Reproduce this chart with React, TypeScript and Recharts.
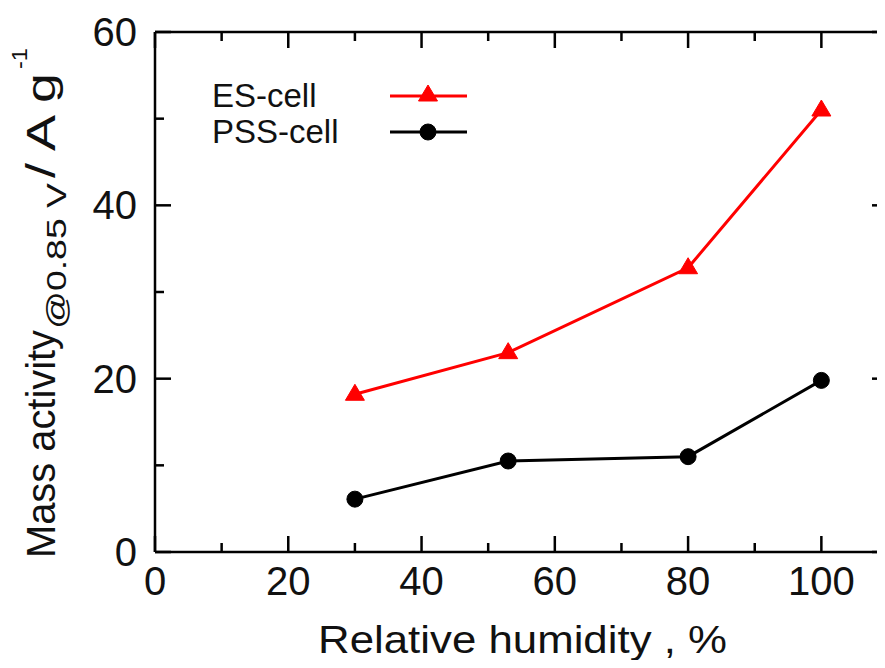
import React from 'react';
import { LineChart, Line, XAxis, YAxis, Legend } from 'recharts';

const humidity = [30, 53, 80, 100];
const esCell = [18.2, 23.0, 32.8, 51.0];
const pssCell = [6.1, 10.5, 11.0, 19.8];
const seriesNames = ['ES-cell', 'PSS-cell'];
const xTicks = [0, 10, 20, 30, 40, 50, 60, 70, 80, 90, 100, 110];
const yTicks = [0, 10, 20, 30, 40, 50, 60];
const xLabelTicks = [0, 20, 40, 60, 80, 100];
const yLabelTicks = [0, 20, 40, 60];

const data = humidity.map((h, i) => ({ rh: h, es: esCell[i], pss: pssCell[i] }));

const FONT = '"Liberation Sans", Arial, Helvetica, sans-serif';
const RED = '#ff0000';
const BLACK = '#000000';
const TEXT = '#111111';
const MAJOR = 16;
const MINOR = 9;
const AXW = 2.5;
const TICK_FONT = 40;

const isMajor = (v: number) => v % 20 === 0;

const BottomTick = (p: any) => {
  const { x, y, payload } = p;
  const v = payload.value;
  const len = isMajor(v) ? MAJOR : MINOR;
  return (
    <g>
      <line x1={x} x2={x} y1={y} y2={y - len} stroke={BLACK} strokeWidth={AXW} />
      {xLabelTicks.includes(v) && (
        <text x={x} y={y + 43} textAnchor="middle" fontSize={TICK_FONT} fontFamily={FONT} fill={TEXT}>
          {v}
        </text>
      )}
    </g>
  );
};

const TopTick = (p: any) => {
  const { x, y, payload } = p;
  const len = isMajor(payload.value) ? MAJOR : MINOR;
  return <line x1={x} x2={x} y1={y} y2={y + len} stroke={BLACK} strokeWidth={AXW} />;
};

const LeftTick = (p: any) => {
  const { x, y, payload } = p;
  const v = payload.value;
  const len = isMajor(v) ? MAJOR : MINOR;
  return (
    <g>
      <line x1={x} x2={x + len} y1={y} y2={y} stroke={BLACK} strokeWidth={AXW} />
      {yLabelTicks.includes(v) && (
        <text x={x - 18} y={y + 14} textAnchor="end" fontSize={TICK_FONT} fontFamily={FONT} fill={TEXT}>
          {v}
        </text>
      )}
    </g>
  );
};

const RightTick = (p: any) => {
  const { x, y, payload } = p;
  const len = isMajor(payload.value) ? MAJOR : MINOR;
  return <line x1={x} x2={x - len} y1={y} y2={y} stroke={BLACK} strokeWidth={AXW} />;
};

const Triangle = ({ cx, cy, color }: any) => (
  <polygon
    points={`${cx},${cy - 10} ${cx + 9.5},${cy + 6} ${cx - 9.5},${cy + 6}`}
    fill={color}
    stroke={color}
    strokeWidth={1}
  />
);

const Circle = ({ cx, cy, color }: any) => <circle cx={cx} cy={cy} r={8} fill={color} stroke={color} />;

const triDot = (p: any) => <Triangle key={`t${p.index}`} cx={p.cx} cy={p.cy} color={RED} />;
const cirDot = (p: any) => <Circle key={`c${p.index}`} cx={p.cx} cy={p.cy} color={BLACK} />;

const LegendContent = (props: any) => {
  const payload = props.payload || [];
  return (
    <div style={{ fontFamily: FONT }}>
      {payload.map((entry: any, i: number) => (
        <div key={i} style={{ display: 'flex', alignItems: 'center', height: 36 }}>
          <span style={{ width: 178, fontSize: 33, color: TEXT, lineHeight: '36px' }}>{entry.value}</span>
          <svg width={77} height={36}>
            <line x1={0} x2={77} y1={18} y2={18} stroke={entry.color} strokeWidth={3} />
            {i === 0 ? <Triangle cx={38} cy={17} color={entry.color} /> : <Circle cx={38} cy={18} color={entry.color} />}
          </svg>
        </div>
      ))}
    </div>
  );
};

const YLabel = (p: any) => {
  const vb = p.viewBox || { x: 0, y: 24, width: 147, height: 520 };
  const x0 = vb.x + 47;
  const y0 = vb.y + vb.height + 6;
  return (
    <g transform={`rotate(-90 ${x0} ${y0})`} fontFamily={FONT} fill={TEXT}>
      <text x={x0} y={y0} fontSize={40} textLength={228} lengthAdjust="spacingAndGlyphs">
        Mass activity
      </text>
      <text x={x0 + 229} y={y0 + 11} fontSize={27} textLength={146} lengthAdjust="spacingAndGlyphs">
        @0.85 V
      </text>
      <text x={x0 + 380} y={y0} fontSize={40} textLength={105} lengthAdjust="spacingAndGlyphs">
        / A g
      </text>
      <text x={x0 + 489} y={y0 - 28} fontSize={22} textLength={21} lengthAdjust="spacingAndGlyphs">
        -1
      </text>
    </g>
  );
};

const XLabel = (p: any) => {
  const vb = p.viewBox || { x: 147, y: 544, width: 733, height: 60 };
  return (
    <text
      x={vb.x + vb.width / 2 + 1}
      y={vb.y + 101}
      textAnchor="middle"
      fontFamily={FONT}
      fill={TEXT}
      fontSize={38}
      textLength={409}
      lengthAdjust="spacingAndGlyphs"
    >
      Relative humidity , %
    </text>
  );
};

export default function App() {
  return (
    <div style={{ width: 877, height: 652, overflow: 'hidden', position: 'relative' }}>
      <LineChart width={877} height={652} data={data} margin={{ top: 23, right: -4, left: 0, bottom: 48 }}>
        <XAxis
          xAxisId="bottom"
          dataKey="rh"
          type="number"
          orientation="bottom"
          domain={[0, 110]}
          ticks={xTicks}
          interval={0}
          allowDataOverflow
          height={60}
          tickSize={0}
          tickMargin={0}
          tickLine={false}
          tick={BottomTick}
          axisLine={{ stroke: BLACK, strokeWidth: AXW }}
          label={<XLabel />}
        />
        <XAxis
          xAxisId="top"
          dataKey="rh"
          type="number"
          orientation="top"
          domain={[0, 110]}
          ticks={xTicks}
          interval={0}
          allowDataOverflow
          height={1}
          tickSize={0}
          tickMargin={0}
          tickLine={false}
          tick={TopTick}
          axisLine={{ stroke: BLACK, strokeWidth: AXW }}
        />
        <YAxis
          yAxisId="left"
          type="number"
          orientation="left"
          domain={[0, 60]}
          ticks={yTicks}
          interval={0}
          allowDataOverflow
          width={147}
          tickSize={0}
          tickMargin={0}
          tickLine={false}
          tick={LeftTick}
          axisLine={{ stroke: BLACK, strokeWidth: AXW }}
          label={<YLabel />}
        />
        <YAxis
          yAxisId="right"
          type="number"
          orientation="right"
          domain={[0, 60]}
          ticks={yTicks}
          interval={0}
          allowDataOverflow
          width={1}
          tickSize={0}
          tickMargin={0}
          tickLine={false}
          tick={RightTick}
          axisLine={{ stroke: BLACK, strokeWidth: AXW }}
        />
        <Legend
          layout="vertical"
          align="center"
          verticalAlign="middle"
          content={LegendContent}
          wrapperStyle={{ left: 204, top: 70, width: 260, height: 72 }}
        />
        <Line
          xAxisId="bottom"
          yAxisId="left"
          dataKey="es"
          name={seriesNames[0]}
          stroke={RED}
          strokeWidth={3}
          dot={triDot}
          activeDot={false}
          isAnimationActive={false}
        />
        <Line
          xAxisId="bottom"
          yAxisId="left"
          dataKey="pss"
          name={seriesNames[1]}
          stroke={BLACK}
          strokeWidth={3}
          dot={cirDot}
          activeDot={false}
          isAnimationActive={false}
        />
      </LineChart>
    </div>
  );
}
